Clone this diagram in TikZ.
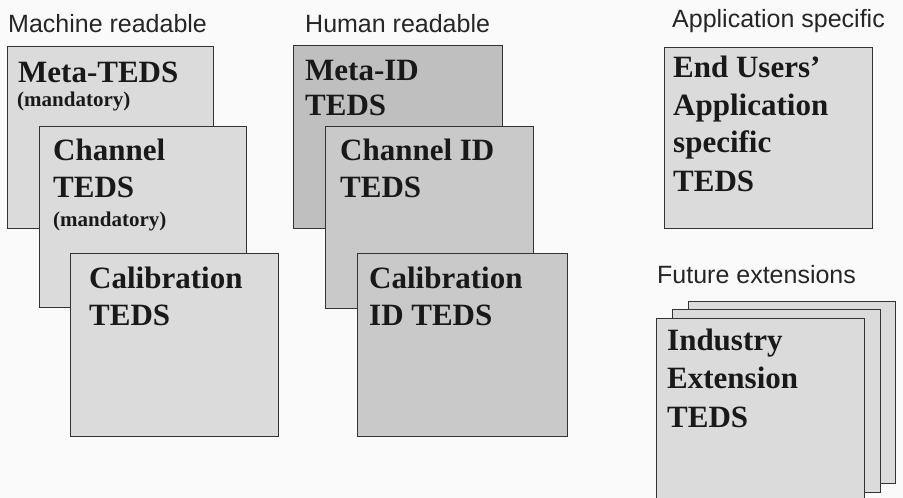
\documentclass[tikz,border=0pt]{standalone}
\usepackage{fontspec}
\setmainfont{Liberation Serif}
\newfontfamily\lblfont{Liberation Sans}
\begin{document}
\begin{tikzpicture}[x=1pt,y=-1pt,
  box/.style={draw=black!80, line width=0.9pt, anchor=north west, inner sep=0pt},
  mbox/.style={box, fill=black!14},
  hbox/.style={box, fill=black!21},
  txt/.style={anchor=base west, inner sep=0pt, font=\fontsize{31}{37}\selectfont\bfseries, text=black!90},
  small/.style={anchor=base west, inner sep=0pt, font=\fontsize{21}{24}\selectfont\bfseries, text=black!90},
  lbl/.style={anchor=base west, inner sep=0pt, font=\fontsize{25}{30}\selectfont\lblfont, text=black!85}]
\useasboundingbox (0,0) rectangle (903,498);
\fill[black!2] (0,0) rectangle (903,498);
% labels
\node[lbl] (lm) at (8,32) {Machine readable};
\node[lbl] (lh) at (305,32) {Human readable};
\node[lbl] (la) at (672,27) {Application specific};
\node[lbl] (lf) at (657,283) {Future extensions};
% machine readable
\node[mbox, minimum width=206pt, minimum height=182pt] (meta) at (7,46) {};
\node[txt] (metat) at (18,82) {Meta-TEDS};
\node[small] (metam) at (17,106) {(mandatory)};
\node[mbox, minimum width=207pt, minimum height=181pt] (chan) at (39,126) {};
\node[txt] (chant1) at (53,160) {Channel};
\node[txt] (chant2) at (53,197) {TEDS};
\node[small] (chanm) at (53,226) {(mandatory)};
\node[mbox, minimum width=208pt, minimum height=183pt] (cal) at (70,253) {};
\node[txt] (calt1) at (89,288) {Calibration};
\node[txt] (calt2) at (89,325) {TEDS};
% human readable
\node[hbox, fill=black!25, minimum width=209pt, minimum height=183pt] (metaid) at (293,45) {};
\node[txt] (metaidt1) at (305,80) {Meta-ID};
\node[txt] (metaidt2) at (305,115) {TEDS};
\node[hbox, minimum width=208pt, minimum height=182pt] (chanid) at (325,126) {};
\node[txt] (chanidt1) at (340,160) {Channel ID};
\node[txt] (chanidt2) at (340,197) {TEDS};
\node[hbox, minimum width=210pt, minimum height=183pt] (calid) at (357,253) {};
\node[txt] (calidt1) at (369,288) {Calibration};
\node[txt] (calidt2) at (369,325) {ID TEDS};
% application specific
\node[mbox, minimum width=208pt, minimum height=181pt] (app) at (664,47) {};
\node[txt] (appt1) at (673,77) {End Users’};
\node[txt] (appt2) at (673,115) {Application};
\node[txt] (appt3) at (673,152) {specific};
\node[txt] (appt4) at (673,191) {TEDS};
% future extensions
\node[mbox, minimum width=207pt, minimum height=182pt] (fut3) at (688,301) {};
\node[mbox, minimum width=208pt, minimum height=183pt] (fut2) at (672,309) {};
\node[mbox, minimum width=208pt, minimum height=182pt] (fut1) at (656,318) {};
\node[txt] (futt1) at (667,350) {Industry};
\node[txt] (futt2) at (667,388) {Extension};
\node[txt] (futt3) at (667,427) {TEDS};
\end{tikzpicture}
\end{document}
